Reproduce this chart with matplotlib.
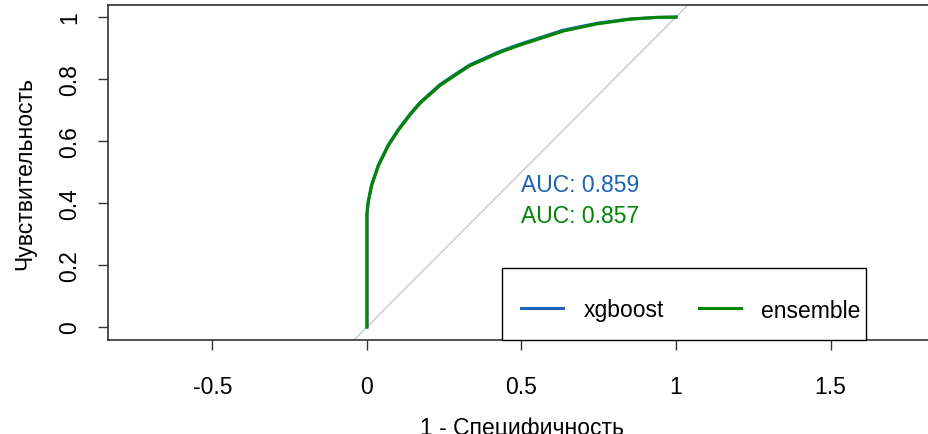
import matplotlib.pyplot as plt
from matplotlib.patches import Rectangle
from matplotlib.legend_handler import HandlerLine2D
import numpy as np

plt.rcParams['font.family'] = ['Liberation Sans', 'DejaVu Sans']

# ROC points (1 - specificity, sensitivity)
fpr = [0, 0, 0.004, 0.015, 0.037, 0.069, 0.101, 0.14, 0.172, 0.236, 0.285,
       0.333, 0.38, 0.43, 0.49, 0.549, 0.636, 0.744, 0.851, 0.937, 1.0]
sens_ensemble = [0, 0.365, 0.402, 0.456, 0.52, 0.585, 0.634, 0.685, 0.722, 0.779, 0.812,
                 0.843, 0.864, 0.886, 0.908, 0.927, 0.955, 0.978, 0.993, 0.999, 1.0]
sens_xgboost = [0, 0.367, 0.405, 0.459, 0.523, 0.588, 0.637, 0.688, 0.725, 0.782, 0.815,
                0.846, 0.867, 0.889, 0.911, 0.930, 0.958, 0.980, 0.994, 0.999, 1.0]

models = ['xgboost', 'ensemble']
colors = ['#1c61b6', '#008600']
aucs = [0.859, 0.857]
auc_y = [0.46, 0.36]

fs = 16.5
W = 935.6 - 108

fig = plt.figure(figsize=(9.29, 4.35), dpi=100)
ax = fig.add_axes([108 / 929, 94 / 435, W / 929, 335 / 435])

ax.axline((0, 0), (1, 1), color='#bebebe', lw=0.8, zorder=1)
l1, = ax.plot(fpr, sens_xgboost, color=colors[0], lw=2.2, zorder=2)
l2, = ax.plot(fpr, sens_ensemble, color=colors[1], lw=2.2, zorder=3)

for a, y, c in zip(aucs, auc_y, colors):
    ax.text(0.5, y, f'AUC: {a:.3f}', color=c, fontsize=fs, ha='left', va='center')

ax.set_xlim(-0.838, 1.84)
ax.set_ylim(-0.042, 1.039)
ax.set_xticks([-0.5, 0, 0.5, 1, 1.5])
ax.set_xticklabels(['-0.5', '0', '0.5', '1', '1.5'])
ax.set_yticks([0, 0.2, 0.4, 0.6, 0.8, 1])
ax.set_yticklabels(['0', '0.2', '0.4', '0.6', '0.8', '1'])
ax.tick_params(axis='x', length=7, width=1, pad=18, labelsize=fs, color='#333333')
ax.tick_params(axis='y', length=7, width=1, pad=12, labelsize=fs, labelrotation=90, color='#333333')
for t in ax.get_yticklabels():
    t.set_va('center')

ax.spines['right'].set_visible(False)
for s in ['left', 'bottom', 'top']:
    ax.spines[s].set_linewidth(1.2)
    ax.spines[s].set_color('#333333')

ax.set_ylabel('Чувствительность', fontsize=fs, labelpad=16)
ax.set_xlabel('1 - Специфичность', fontsize=fs, labelpad=13)

# legend box (R style) plus frameless legend inside
ax.add_patch(Rectangle(((502 - 108) / W, 0), (866 - 502) / W, 72 / 335,
                       transform=ax.transAxes, facecolor='white', edgecolor='black',
                       lw=1.0, zorder=4, clip_on=False))
hmap = {l1: HandlerLine2D(ypad=-0.1), l2: HandlerLine2D(ypad=-0.1)}
leg = ax.legend([l1, l2], models, ncol=2, loc='center left',
                bbox_to_anchor=((521 - 108) / W, (341 - 311) / 335),
                borderaxespad=0, fontsize=fs, frameon=False, borderpad=0,
                handlelength=1.85, handletextpad=0.87, columnspacing=1.52,
                handler_map=hmap)
leg.set_zorder(5)

fig.savefig('out.png', dpi=100)
